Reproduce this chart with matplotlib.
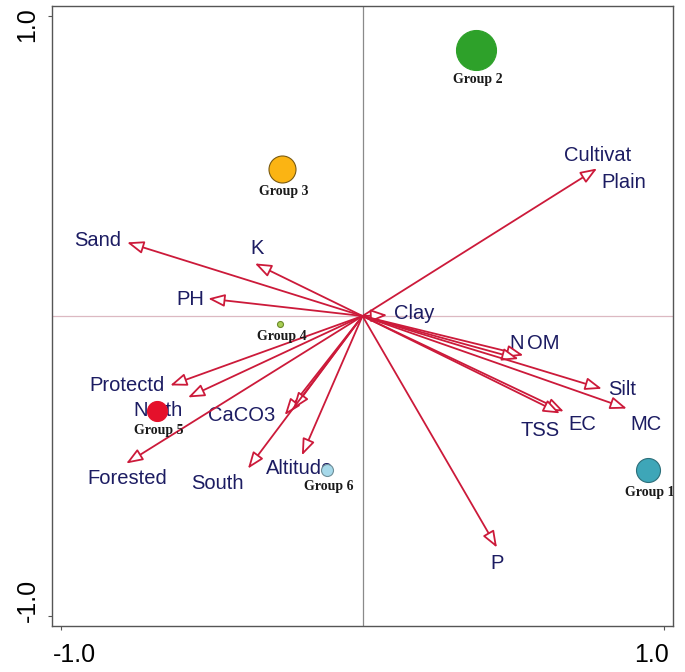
import matplotlib
matplotlib.use("Agg")
import matplotlib.pyplot as plt
from matplotlib.patches import FancyArrowPatch
from matplotlib.transforms import ScaledTranslation

# ---- data ----
var_names = ["Sand", "K", "PH", "Protectd", "North", "Forested", "CaCO3", "", "South",
             "Altitude", "Cultivat", "Clay", "N", "OM", "Silt", "MC", "EC", "TSS", "P"]
var_x = [-0.781, -0.357, -0.512, -0.638, -0.579, -0.784, -0.258, -0.230, -0.380,
         -0.201, 0.778, 0.082, 0.534, 0.518, 0.794, 0.877, 0.668, 0.655, 0.446]
var_y = [0.245, 0.175, 0.058, -0.231, -0.271, -0.491, -0.330, -0.310, -0.508,
         -0.464, 0.491, 0.003, -0.131, -0.143, -0.242, -0.308, -0.318, -0.324, -0.771]
# label anchor positions for each variable (in data units)
lab_x = [-0.88, -0.35, -0.57, -0.78, -0.68, -0.78, -0.40, None, -0.48,
         -0.21, 0.78, 0.17, 0.51, 0.60, 0.86, 0.94, 0.73, 0.59, 0.446]
lab_y = [0.25, 0.225, 0.055, -0.23, -0.315, -0.54, -0.33, None, -0.558,
         -0.508, 0.535, 0.007, -0.092, -0.092, -0.245, -0.362, -0.362, -0.382, -0.824]
extra_label = ("Plain", 0.865, 0.443)

groups = ["Group 1", "Group 2", "Group 3", "Group 4", "Group 5", "Group 6"]
grp_x = [0.947, 0.376, -0.267, -0.274, -0.682, -0.118]
grp_y = [-0.514, 0.887, 0.491, -0.025, -0.315, -0.514]
grp_radius_px = [12, 20, 13.5, 3, 10, 6]
grp_colors = ["#3ea6b8", "#2ea12a", "#fbb413", "#a9cf55", "#e5112b", "#a6d9ea"]
grp_edges = ["#2d6f7a", "#2ea12a", "#7a5a10", "#6b8a2a", "#e5112b", "#6f8f99"]

xticks = [-1.0, 1.0]
xtick_labels = ["-1.0", "1.0"]
yticks = [-1.0, 1.0]
ytick_labels = ["-1.0", "1.0"]

# ---- figure ----
fig = plt.figure(figsize=(6.85, 6.72), dpi=100)
ax = fig.add_axes([52 / 685, 46 / 672, 621 / 685, 620 / 672])
ax.set_xlim(-1.03, 1.03)
ax.set_ylim(-1.032, 1.032)

red = "#cc1a3a"
navy = "#1c1c62"

ax.axvline(0, color="#8a8a8a", lw=0.9, zorder=1)
ax.axhline(0, color="#dcb9c2", lw=0.9, zorder=1)

for x, y in zip(var_x, var_y):
    arr = FancyArrowPatch((0, 0), (x, y),
                          arrowstyle="-|>,head_length=10,head_width=3.8",
                          mutation_scale=1, shrinkA=0, shrinkB=0,
                          fc="white", ec=red, lw=1.3, zorder=3)
    ax.add_patch(arr)

for name, lx, ly in zip(var_names, lab_x, lab_y):
    if name and lx is not None:
        ax.text(lx, ly, name, color=navy, fontsize=14.5, family="Liberation Sans",
                ha="center", va="center", zorder=2)
ax.text(extra_label[1], extra_label[2], extra_label[0], color=navy, fontsize=14.5,
        family="Liberation Sans", ha="center", va="center", zorder=2)

for g, x, y, r, c, e in zip(groups, grp_x, grp_y, grp_radius_px, grp_colors, grp_edges):
    s = (2 * r * 72 / 100) ** 2
    ax.scatter([x], [y], s=s, color=c, edgecolors=e, linewidths=0.8, zorder=4)
    off = r / 300 + 0.033
    ax.text(x + 0.005, y - off, g, fontsize=10, family="Liberation Serif",
            fontweight="bold", color="#1a1a1a", ha="center", va="center", zorder=5)

for sp in ax.spines.values():
    sp.set_color("#555555")
    sp.set_linewidth(1.0)
    sp.set_zorder(6)

ax.set_xticks(xticks)
ax.set_xticklabels(xtick_labels, fontsize=18, family="Liberation Sans")
ax.set_yticks(yticks)
ax.set_yticklabels(ytick_labels, fontsize=18, family="Liberation Sans",
                   rotation=90, va="center")
ax.tick_params(direction="out", length=3, width=0.8, color="#555555")
ax.tick_params(axis="x", pad=9)
ax.tick_params(axis="y", pad=6)

# shift tick labels inward like the reference
xl = ax.get_xticklabels()
xl[0].set_transform(xl[0].get_transform() + ScaledTranslation(13 / 100, 0, fig.dpi_scale_trans))
xl[1].set_transform(xl[1].get_transform() + ScaledTranslation(-12 / 100, 0, fig.dpi_scale_trans))
yl = ax.get_yticklabels()
yl[0].set_transform(yl[0].get_transform() + ScaledTranslation(0, 16 / 100, fig.dpi_scale_trans))
yl[1].set_transform(yl[1].get_transform() + ScaledTranslation(0, -9 / 100, fig.dpi_scale_trans))

fig.savefig("out.png", dpi=100)
